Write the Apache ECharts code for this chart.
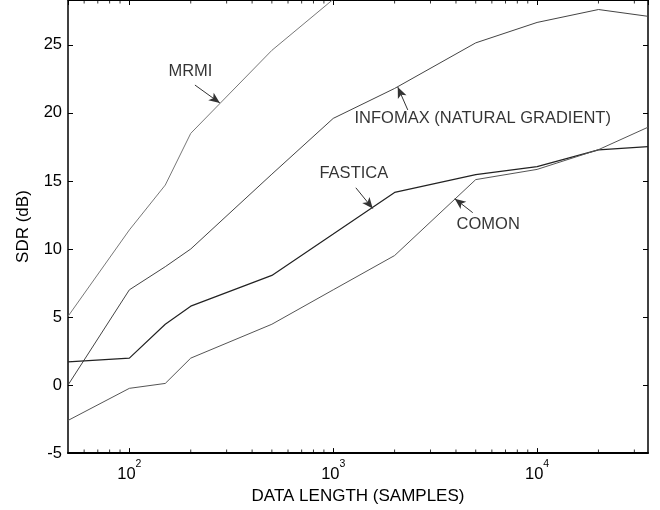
<!DOCTYPE html>
<html><head><meta charset="utf-8">
<script src="https://cdn.jsdelivr.net/npm/echarts@6/dist/echarts.min.js"></script>
<style>html,body{margin:0;padding:0;background:#fff}#c{width:660px;height:510px}</style>
</head><body><div id="c"></div>
<script>
// Data length (samples) at which each method was evaluated
const samples = [50, 100, 150, 200, 500, 1000, 2000, 5000, 10000, 20000, 35000];
// SDR (dB) per method
const mrmi    = [5.05, 11.4, 14.7, 18.5, 24.6, 28.35];
const infomax = [0.0, 7.0, 8.7, 10.0, 15.5, 19.6, 21.8, 25.15, 26.65, 27.6, 27.1];
const fastica = [1.7, 1.98, 4.47, 5.8, 8.06, 11.1, 14.16, 15.46, 16.05, 17.29, 17.53];
const comon   = [-2.6, -0.24, 0.12, 1.98, 4.47, 7.0, 9.52, 15.1, 15.85, 17.3, 18.95];
// Minor log ticks on the x axis
const minorTicks = [60, 70, 80, 90, 200, 300, 400, 500, 600, 700, 800, 900,
  2000, 3000, 4000, 5000, 6000, 7000, 8000, 9000, 20000, 30000];
// Annotation labels with arrows (data coordinates)
const annotations = [
  { text: 'MRMI', at: [199.3, 23.08], from: [209.7, 22.05], to: [278, 20.73] },
  { text: 'INFOMAX (NATURAL GRADIENT)', at: [5411, 19.56], from: [2321, 20.22], to: [2073, 21.9] },
  { text: 'FASTICA', at: [1262, 15.57], from: [1291, 14.5], to: [1563, 12.97] },
  { text: 'COMON', at: [5759, 11.8], from: [4834, 12.67], to: [3946, 13.7] }
];
const X_MIN = 50, X_MAX = 35000, Y_MIN = -5, Y_MAX = 28.3;

const pair = vals => vals.map((v, i) => [samples[i], v]);
const lineSeries = (name, vals, color, width) => ({
  name, type: 'line', data: pair(vals), showSymbol: false, symbol: 'none',
  lineStyle: { color, width }, clip: true, z: 3, silent: true
});
const minorSeries = (yVal, offset) => ({
  type: 'scatter', silent: true, clip: false, z: 5,
  symbol: 'rect', symbolSize: [1, 3], symbolOffset: [0, offset],
  itemStyle: { color: '#000' },
  data: minorTicks.map(v => [v, yVal])
});

const chart = echarts.init(document.getElementById('c'), null, { renderer: 'canvas' });
const FONT = 'Liberation Sans, Arial, sans-serif';
chart.setOption({
  animation: false,
  backgroundColor: '#fff',
  grid: { left: 68, right: 12, top: 0, bottom: 55, containLabel: false },
  xAxis: [
    {
      type: 'log', min: X_MIN, max: X_MAX, position: 'bottom',
      name: 'DATA LENGTH (SAMPLES)', nameLocation: 'middle', nameGap: 24,
      nameTextStyle: { fontSize: 17, color: '#000', fontFamily: FONT },
      axisLine: { show: true, onZero: false, lineStyle: { color: '#000', width: 2 } },
      axisTick: { show: true, inside: true, length: 5, lineStyle: { color: '#000' } },
      splitLine: { show: false }, minorTick: { show: false },
      axisLabel: {
        margin: 6, showMinLabel: false, showMaxLabel: false,
        formatter: v => {
          const e = Math.log10(v);
          if (Math.abs(e - Math.round(e)) > 1e-6) return '';
          return '{b|10}{s|' + Math.round(e) + '}';
        },
        rich: {
          b: { fontSize: 16.5, lineHeight: 24, color: '#000', verticalAlign: 'bottom', fontFamily: FONT },
          s: { fontSize: 10.5, lineHeight: 7, color: '#000', verticalAlign: 'top', fontFamily: FONT }
        }
      }
    },
    {
      type: 'log', min: X_MIN, max: X_MAX, position: 'top',
      axisLine: { show: true, onZero: false, lineStyle: { color: '#000', width: 1 } },
      axisTick: { show: true, inside: true, length: 5, lineStyle: { color: '#000' } },
      axisLabel: { show: false }, splitLine: { show: false }
    }
  ],
  yAxis: [
    {
      type: 'value', min: Y_MIN, max: Y_MAX, interval: 5, position: 'left',
      name: 'SDR (dB)', nameLocation: 'middle', nameGap: 36, nameRotate: 90,
      nameTextStyle: { fontSize: 17, color: '#000', fontFamily: FONT },
      axisLine: { show: true, onZero: false, lineStyle: { color: '#000', width: 1.5 } },
      axisTick: { show: true, inside: true, length: 5, lineStyle: { color: '#000' } },
      splitLine: { show: false },
      axisLabel: { fontSize: 16.5, color: '#000', margin: 6, showMaxLabel: false, fontFamily: FONT }
    },
    {
      type: 'value', min: Y_MIN, max: Y_MAX, interval: 5, position: 'right',
      axisLine: { show: true, onZero: false, lineStyle: { color: '#000', width: 1.5 } },
      axisTick: { show: true, inside: true, length: 5, lineStyle: { color: '#000' } },
      splitLine: { show: false }, axisLabel: { show: false }
    }
  ],
  series: [
    lineSeries('MRMI', mrmi, '#777', 1),
    lineSeries('INFOMAX', infomax, '#444', 1),
    lineSeries('FASTICA', fastica, '#222', 1.2),
    lineSeries('COMON', comon, '#555', 1),
    minorSeries(Y_MIN, -2),
    minorSeries(Y_MAX, 2),
    {
      type: 'scatter', name: 'annotations', silent: true, symbolSize: 1,
      itemStyle: { color: 'rgba(0,0,0,0)' }, z: 6,
      data: annotations.map(a => ({ name: a.text, value: a.at })),
      label: { show: true, position: 'inside', formatter: '{b}', fontSize: 16.5, color: '#000', fontFamily: FONT },
      markLine: {
        silent: true, animation: false, symbol: ['none', 'arrow'], symbolSize: [7, 11],
        label: { show: false },
        lineStyle: { color: '#333', width: 1, type: 'solid' },
        data: annotations.map(a => [{ coord: a.from }, { coord: a.to }])
      }
    }
  ]
});
</script></body></html>
